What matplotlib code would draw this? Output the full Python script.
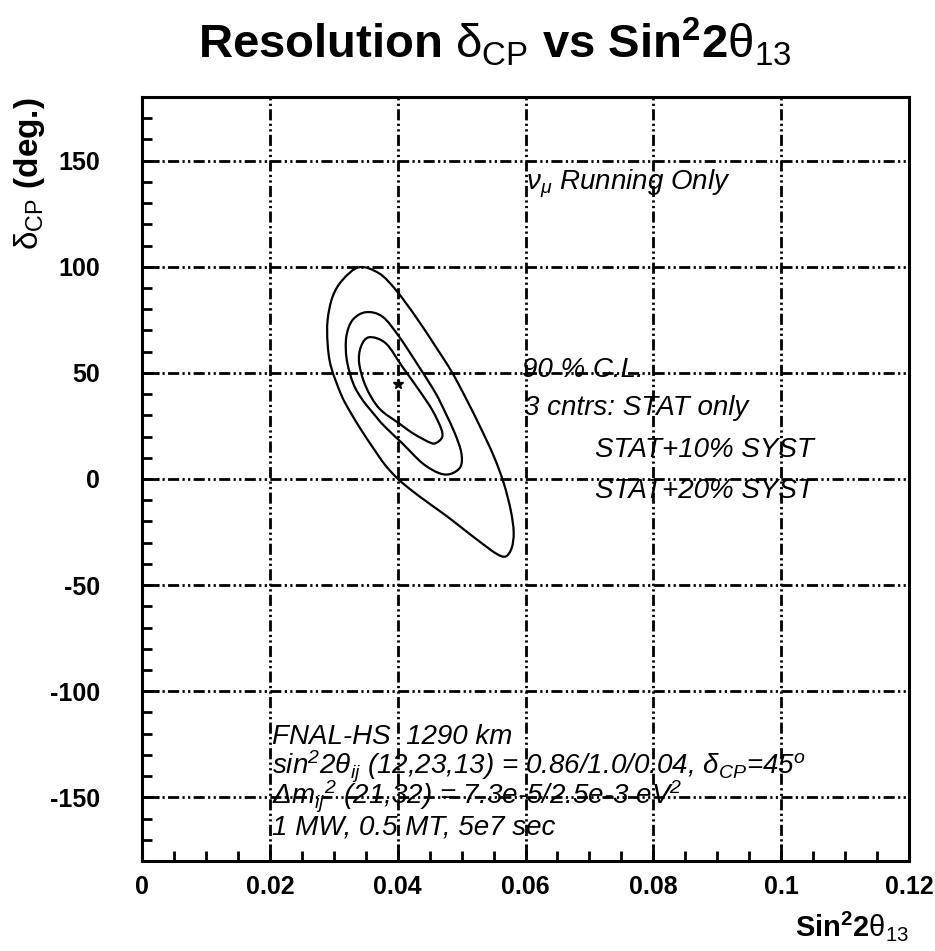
import matplotlib
matplotlib.use("Agg")
import matplotlib.pyplot as plt
from matplotlib.path import Path
from matplotlib.patches import PathPatch
from matplotlib.ticker import MultipleLocator, FixedLocator, FixedFormatter

plt.rcParams["font.family"] = ["Liberation Sans", "DejaVu Sans"]
plt.rcParams["mathtext.fontset"] = "custom"
plt.rcParams["mathtext.rm"] = "Liberation Sans"
plt.rcParams["mathtext.it"] = "Liberation Sans:italic"
plt.rcParams["mathtext.bf"] = "Liberation Sans:bold"
plt.rcParams["mathtext.default"] = "regular"

# Allowed regions (90% C.L.) in the (sin^2 2theta13, delta_CP) plane
outer_x = [0.03399, 0.03710, 0.03971, 0.04282, 0.04594, 0.04848, 0.05082, 0.05300,
           0.05503, 0.05659, 0.05768, 0.05815, 0.05784, 0.05690, 0.05550, 0.05331,
           0.05066, 0.04786, 0.04505, 0.04240, 0.04006, 0.03804, 0.03617, 0.03430,
           0.03258, 0.03118, 0.02957, 0.02904, 0.02904, 0.02982, 0.03138]
outer_y = [99.8, 96.9, 89.1, 76.5, 62.4, 50.4, 37.2, 24.0,
           10.8, -1.9, -14.6, -25.0, -32.5, -36.5, -35.3, -30.6,
           -24.5, -17.9, -11.8, -5.9, 0.0, 6.6, 14.6, 23.1,
           31.6, 39.6, 52.9, 63.9, 74.9, 85.9, 93.8]

middle_x = [0.03503, 0.03762, 0.04022, 0.04334, 0.04594, 0.04750, 0.04895, 0.04995,
            0.04984, 0.04828, 0.04646, 0.04385, 0.04073, 0.03788, 0.03617, 0.03445,
            0.03305, 0.03204, 0.03196, 0.03294]
middle_y = [78.6, 76.5, 67.1, 52.9, 40.4, 31.0, 21.5, 12.5,
            5.8, 2.4, 2.8, 7.5, 16.8, 25.0, 31.0, 37.5,
            45.0, 56.1, 66.9, 74.9]

inner_x = [0.03554, 0.03815, 0.04073, 0.04334, 0.04541, 0.04677, 0.04697, 0.04614,
           0.04521, 0.04256, 0.04022, 0.03710, 0.03503, 0.03398, 0.03425]
inner_y = [66.8, 63.9, 52.9, 41.9, 32.5, 24.0, 19.8, 17.2,
           17.0, 21.2, 26.2, 33.3, 43.5, 54.5, 62.3]

# true point
best_x = [0.04]
best_y = [45]

xtick_vals = [0, 0.02, 0.04, 0.06, 0.08, 0.1, 0.12]
xtick_labels = ["0", "0.02", "0.04", "0.06", "0.08", "0.1", "0.12"]
ytick_vals = [-150, -100, -50, 0, 50, 100, 150]
ytick_labels = ["-150", "-100", "-50", "0", "50", "100", "150"]


def closed_curve(xs, ys):
    # smooth closed path through the points (Catmull-Rom as cubic Beziers)
    n = len(xs)
    verts = [(xs[0], ys[0])]
    codes = [Path.MOVETO]
    for i in range(n):
        p0 = (xs[i - 1], ys[i - 1])
        p1 = (xs[i], ys[i])
        p2 = (xs[(i + 1) % n], ys[(i + 1) % n])
        p3 = (xs[(i + 2) % n], ys[(i + 2) % n])
        c1 = (p1[0] + (p2[0] - p0[0]) / 6, p1[1] + (p2[1] - p0[1]) / 6)
        c2 = (p2[0] - (p3[0] - p1[0]) / 6, p2[1] - (p3[1] - p1[1]) / 6)
        verts += [c1, c2, p2]
        codes += [Path.CURVE4] * 3
    return Path(verts, codes)


fig = plt.figure(figsize=(9.35, 9.51), dpi=100)
ax = fig.add_axes([142 / 935, 90 / 951, 767 / 935, 764 / 951])

for cx, cy in [(outer_x, outer_y), (middle_x, middle_y), (inner_x, inner_y)]:
    ax.add_patch(PathPatch(closed_curve(cx, cy), fill=False,
                           edgecolor="black", lw=1.6))
ax.plot(best_x, best_y, marker="*", color="black", ms=7, ls="none")

ax.set_xlim(0, 0.12)
ax.set_ylim(-180, 180)
ax.xaxis.set_major_locator(FixedLocator(xtick_vals))
ax.xaxis.set_major_formatter(FixedFormatter(xtick_labels))
ax.yaxis.set_major_locator(FixedLocator(ytick_vals))
ax.yaxis.set_major_formatter(FixedFormatter(ytick_labels))
ax.xaxis.set_minor_locator(MultipleLocator(0.005))
ax.yaxis.set_minor_locator(MultipleLocator(10))

ax.tick_params(which="both", direction="in", top=False, right=False, width=2)
ax.tick_params(which="major", length=12, labelsize=18)
ax.tick_params(which="minor", length=7)
ax.tick_params(axis="x", which="major", pad=10)
ax.tick_params(axis="y", which="major", pad=30)
for lab in ax.get_xticklabels() + ax.get_yticklabels():
    lab.set_fontweight("bold")
for sp in ax.spines.values():
    sp.set_linewidth(2.2)

# ROOT style dash-dot-dot grid
ax.grid(True, which="major", color="black", lw=2.0,
        ls=(0, (4, 1.2, 0.8, 1.2, 0.8, 1.2)))
ax.set_axisbelow(False)

ax.set_title(r"Resolution $\mathrm{\delta_{CP}}$ vs Sin$^{2}$2$\mathrm{\theta_{13}}$",
             fontsize=34, fontweight="bold", pad=28, x=0.46)
ax.set_ylabel(r"$\mathrm{\delta_{CP}}$ (deg.)", fontsize=24, fontweight="bold",
              loc="top", labelpad=2)
ax.set_xlabel(r"Sin$^{2}$2$\mathrm{\theta_{13}}$", fontsize=21, fontweight="bold",
              loc="right", labelpad=7)

kw = dict(fontsize=20, fontstyle="italic", va="center", ha="left")
ax.text(0.0600, 139, r"$\nu_{\mu}$ Running Only", **kw)
ax.text(0.0594, 51.4, "90 % C.L.", **kw)
ax.text(0.0597, 33.5, "3 cntrs: STAT only", **kw)
ax.text(0.0709, 13.7, "STAT+10% SYST", **kw)
ax.text(0.0709, -5.6, "STAT+20% SYST", **kw)
ax.text(0.0203, -121.6, "FNAL-HS  1290 km", **kw)
ax.text(0.0203, -135.7,
        r"sin$^{2}$2$\theta_{ij}$ (12,23,13) = 0.86/1.0/0.04, $\delta_{CP}$=45$^{o}$", **kw)
ax.text(0.0203, -149.9,
        r"$\Delta$m$_{ij}$$^{2}$ (21,32) = 7.3e-5/2.5e-3 eV$^{2}$", **kw)
ax.text(0.0203, -164.0, "1 MW, 0.5 MT, 5e7 sec", **kw)

fig.savefig("out.png", dpi=100)
